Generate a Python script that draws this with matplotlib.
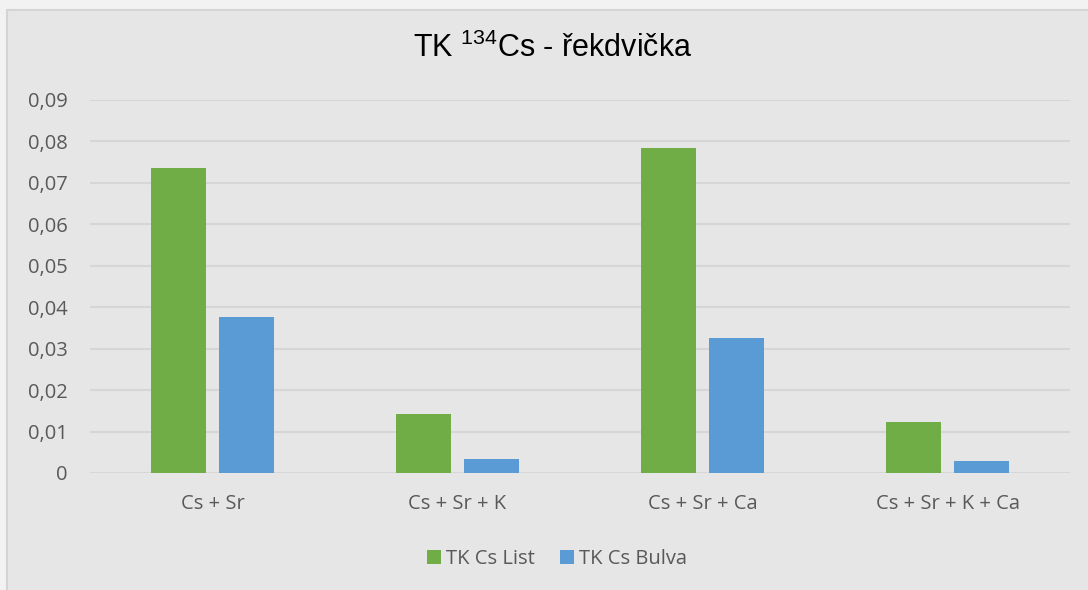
import matplotlib.pyplot as plt
import numpy as np
from matplotlib.patches import Rectangle

categories = ["Cs + Sr", "Cs + Sr + K", "Cs + Sr + Ca", "Cs + Sr + K + Ca"]
tk_list = [0.0736, 0.0142, 0.0784, 0.0122]
tk_bulva = [0.0376, 0.0034, 0.0326, 0.0030]
series_names = ["TK Cs List", "TK Cs Bulva"]
yticks = [0.0, 0.01, 0.02, 0.03, 0.04, 0.05, 0.06, 0.07, 0.08, 0.09]
ytick_labels = ["0", "0,01", "0,02", "0,03", "0,04", "0,05", "0,06", "0,07", "0,08", "0,09"]

W, H = 1088, 590
bg = "#E6E6E6"
text_gray = "#595959"
label_font = "Open Sans"

plt.rcParams["mathtext.fontset"] = "custom"
plt.rcParams["mathtext.rm"] = "Liberation Sans"
plt.rcParams["mathtext.it"] = "Liberation Sans"

fig = plt.figure(figsize=(W / 100, H / 100), dpi=100)
fig.patch.set_facecolor("#F2F2F2")
fig.patches.append(Rectangle((7 / W, -0.1), 1.2, (H - 10) / H + 0.1,
                             transform=fig.transFigure, facecolor=bg,
                             edgecolor="#D4D4D4", linewidth=1.5, zorder=-5))

ax = fig.add_axes([90 / W, (H - 473) / H, 980 / W, 373 / H])
ax.set_facecolor(bg)
ax.set_zorder(2)

x = np.arange(len(categories))
width = 0.224
ax.bar(x - 0.14, tk_list, width, color="#70AD47", label=series_names[0], zorder=3)
ax.bar(x + 0.14, tk_bulva, width, color="#5B9BD5", label=series_names[1], zorder=3)

ax.set_xlim(-0.5, len(categories) - 0.5)
ax.set_ylim(0, 0.09)
ax.set_yticks(yticks)
ax.set_yticklabels(ytick_labels)
ax.set_xticks(x)
ax.set_xticklabels(categories)
ax.yaxis.grid(True, color="#D6D6D6", linewidth=1.5, zorder=0)
ax.tick_params(axis="both", length=0, labelsize=14.5, labelcolor=text_gray,
               labelfontfamily=label_font)
ax.tick_params(axis="y", pad=16)
ax.tick_params(axis="x", pad=15)
for s in ax.spines.values():
    s.set_visible(False)

fig.text(553 / W, 1 - 48 / H, r"TK $^{\mathrm{134}}$Cs - řekdvička", ha="center",
         va="center", fontsize=22, family="Liberation Sans", color="black")

handles, labels = ax.get_legend_handles_labels()
leg = fig.legend(handles, labels, loc="center", bbox_to_anchor=(557 / W, 1 - 559 / H),
                 ncol=2, frameon=False, prop={"family": label_font, "size": 14.5},
                 handlelength=0.7, handleheight=0.7, handletextpad=0.25,
                 columnspacing=1.25, borderpad=0)
for t in leg.get_texts():
    t.set_color(text_gray)

fig.savefig("out.png", dpi=100, facecolor=fig.get_facecolor())
